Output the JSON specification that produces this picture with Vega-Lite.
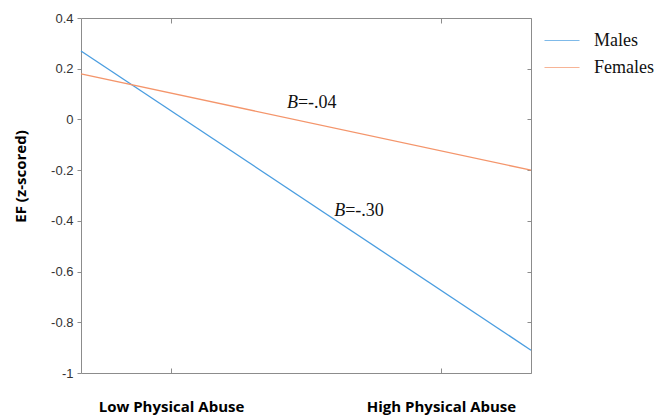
{
  "$schema": "https://vega.github.io/schema/vega-lite/v6.json",
  "width": 450,
  "height": 355,
  "autosize": {"type": "none"},
  "padding": {"left": 81, "top": 18, "right": 127, "bottom": 43},
  "background": "white",
  "config": {
    "view": {"stroke": "#8c8c8c", "strokeWidth": 1},
    "axis": {"domainColor": "#8c8c8c", "tickColor": "#8c8c8c", "grid": false, "labelFont": "Liberation Sans", "labelColor": "#333333", "labelFontSize": 13}
  },
  "datasets": {
    "lines": [
      {"group": "Males", "x": 0, "y": 0.27},
      {"group": "Males", "x": 1, "y": -0.91},
      {"group": "Females", "x": 0, "y": 0.18},
      {"group": "Females", "x": 1, "y": -0.2}
    ],
    "notes": [
      {"x": 0.482, "y": 0.065, "b": "B", "rest": "=-.04"},
      {"x": 0.587, "y": -0.361, "b": "B", "rest": "=-.30"}
    ]
  },
  "resolve": {"axis": {"x": "independent", "y": "independent"}},
  "layer": [
    {
      "data": {"name": "lines"},
      "mark": {"type": "line", "strokeWidth": 1.3},
      "encoding": {
        "x": {"field": "x", "type": "quantitative", "scale": {"domain": [0, 1]},
          "axis": {"orient": "bottom", "values": [0.2, 0.8], "labelExpr": "datum.value < 0.5 ? 'Low Physical Abuse' : 'High Physical Abuse'", "labelFont": "Open Sans", "labelFontWeight": "bold", "labelFontSize": 15, "labelColor": "#000000", "labelPadding": 31, "tickSize": -5, "title": null, "domain": false}},
        "y": {"field": "y", "type": "quantitative", "scale": {"domain": [-1, 0.4], "nice": false},
          "axis": {"orient": "left", "values": [-1, -0.8, -0.6, -0.4, -0.2, 0, 0.2, 0.4], "labelExpr": "datum.value == 0 ? '0' : replace(replace(format(datum.value, '.1f'), '\u2212', '-'), '.0', '')", "tickSize": 4, "labelPadding": 4, "domain": false, "title": "EF (z-scored)", "titleFont": "Open Sans", "titleFontWeight": "bold", "titleFontSize": 15, "titleColor": "#000000", "titleX": -61, "titleY": 158, "titleAngle": -90, "titleAlign": "center", "titleBaseline": "middle"}},
        "color": {"field": "group", "type": "nominal", "scale": {"domain": ["Males", "Females"], "range": ["#4a9de0", "#f4956b"]},
          "legend": {"orient": "none", "legendX": 463, "legendY": 4.5, "title": null, "symbolType": "stroke", "symbolSize": 1225, "symbolStrokeWidth": 1, "symbolOpacity": 0.7, "labelFont": "Liberation Serif", "labelFontSize": 18, "labelColor": "#111111", "labelOffset": 14, "rowPadding": -14}}
      }
    },
    {
      "data": {"name": "lines"},
      "mark": {"type": "point", "opacity": 0},
      "encoding": {
        "x": {"field": "x", "type": "quantitative", "scale": {"domain": [0, 1]},
          "axis": {"orient": "top", "values": [0.2, 0.8], "labels": false, "tickSize": -5, "title": null, "domain": false}},
        "y": {"field": "y", "type": "quantitative", "scale": {"domain": [-1, 0.4], "nice": false},
          "axis": {"orient": "right", "values": [-1, -0.8, -0.6, -0.4, -0.2, 0, 0.2, 0.4], "labels": false, "tickSize": -4, "title": null, "domain": false}}
      }
    },
    {
      "data": {"name": "notes"},
      "mark": {"type": "text", "font": "Liberation Serif", "fontSize": 18, "fontStyle": "italic", "align": "right", "baseline": "middle", "color": "#111111"},
      "encoding": {
        "x": {"field": "x", "type": "quantitative", "axis": null},
        "y": {"field": "y", "type": "quantitative", "axis": null},
        "text": {"field": "b"}
      }
    },
    {
      "data": {"name": "notes"},
      "mark": {"type": "text", "font": "Liberation Serif", "fontSize": 18, "align": "left", "baseline": "middle", "color": "#111111"},
      "encoding": {
        "x": {"field": "x", "type": "quantitative", "axis": null},
        "y": {"field": "y", "type": "quantitative", "axis": null},
        "text": {"field": "rest"}
      }
    }
  ]
}
